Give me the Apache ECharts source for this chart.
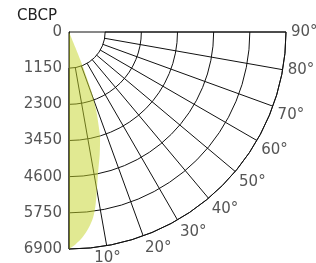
<!DOCTYPE html>
<html>
<head>
<meta charset="utf-8">
<script src="https://cdn.jsdelivr.net/npm/echarts@6/dist/echarts.min.js"></script>
<style>
  html, body { margin: 0; padding: 0; background: #fff; }
  #chart { width: 316px; height: 263px; }
</style>
</head>
<body>
<div id="chart"></div>
<script>
// candela curve (angle in degrees from nadir)
const beamAngles = [0, 1.8, 3.7, 5.8, 7.4, 8.8, 10.2, 11.9, 14.1, 16.4, 17.4, 19.1, 20.5, 21, 21.6, 22, 22.5, 23]
const beamValues = [6900, 6750, 6550, 6250, 5950, 5540, 5030, 4510, 4010, 3500, 3180, 2650, 2110, 1780, 1340, 990, 540, 0]

const radiusMax = 6900
const radiusStep = 1150
const angleStep = 10

const chart = echarts.init(document.getElementById('chart'))

const font = 'DejaVu Sans'
const lineCol = '#111'

const option = {
    animation: false,
    title: {
        text: 'CBCP',
        left: 12,
        top: 4,
        textStyle: { fontFamily: font, fontSize: 15, fontWeight: 'normal', color: '#222' }
    },
    polar: [
        { center: [69, 32], radius: 217 },
        { center: [69, 32], radius: [36, 217] }
    ],
    angleAxis: [{
        // 0 and 90 edges + outer arc
        polarIndex: 0,
        type: 'value',
        min: 0,
        max: 90,
        interval: 90,
        startAngle: -90,
        endAngle: 0,
        clockwise: false,
        axisLine: { show: true, lineStyle: { color: lineCol, width: 1 } },
        axisTick: { show: false },
        axisLabel: { show: false },
        splitLine: { show: true, lineStyle: { color: lineCol, width: 1 } }
    }, {
        // spokes start at the first ring
        polarIndex: 1,
        type: 'value',
        min: 0,
        max: 90,
        interval: angleStep,
        startAngle: -90,
        endAngle: 0,
        clockwise: false,
        axisLine: { show: false },
        axisTick: { show: false },
        axisLabel: {
            margin: 5,
            fontFamily: font,
            fontSize: 15,
            color: '#555',
            formatter: v => v === 0 ? '' : v + '°'
        },
        splitLine: { show: true, lineStyle: { color: lineCol, width: 1 } }
    }],
    radiusAxis: [{
        polarIndex: 0,
        type: 'value',
        min: 0,
        max: radiusMax,
        interval: radiusStep,
        axisLine: { show: true, lineStyle: { color: lineCol, width: 1 } },
        axisTick: { show: false },
        axisLabel: {
            margin: -7,
            align: 'right',
            fontFamily: font,
            fontSize: 15,
            color: '#555',
            formatter: v => String(v)
        },
        splitLine: { show: true, lineStyle: { color: lineCol, width: 1 } }
    }, {
        polarIndex: 1,
        type: 'value',
        min: 0,
        max: radiusMax,
        show: false
    }],
    series: [{
        type: 'line',
        coordinateSystem: 'polar',
        polarIndex: 0,
        smooth: 0.3,
        showSymbol: false,
        lineStyle: { width: 0 },
        areaStyle: { color: 'rgba(196,212,40,0.72)' },
        data: beamValues.map((r, i) => [r, beamAngles[i]])
    }]
}

chart.setOption(option)
</script>
</body>
</html>
